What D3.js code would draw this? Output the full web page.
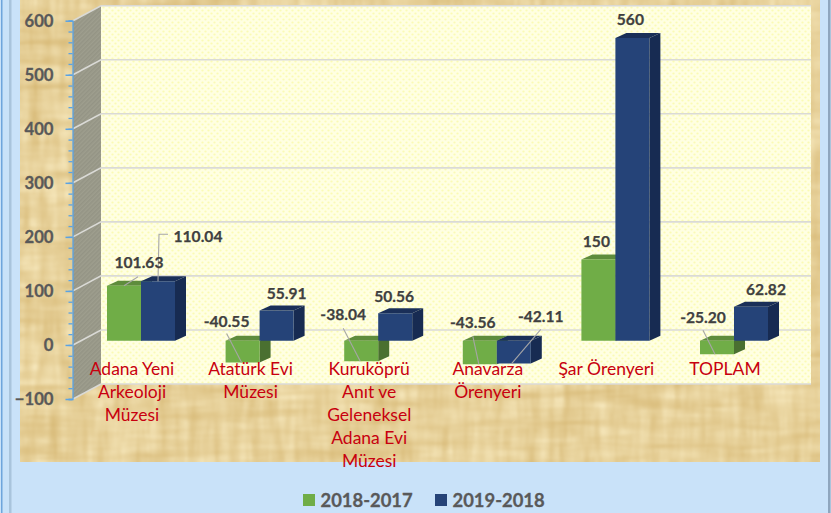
<!DOCTYPE html>
<html>
<head>
<meta charset="utf-8">
<script src="https://cdn.jsdelivr.net/npm/d3@7"></script>
<style>
    html, body { margin: 0; padding: 0; background: #C9E2F9; overflow: hidden; }
    svg { display: block; }
    text { font-family: Lato, "Open Sans", sans-serif; }
</style>
</head>
<body>
<div id="chart"></div>
<script>
'use strict'

// data
const categories = ["Adana Yeni|Arkeoloji|Müzesi", "Atatürk Evi|Müzesi", "Kuruköprü|Anıt ve|Geleneksel|Adana Evi|Müzesi", "Anavarza|Örenyeri", "Şar Örenyeri", "TOPLAM"]
const seriesNames = ["2018-2017", "2019-2018"]
const values2018 = [101.63, -40.55, -38.04, -43.56, 150, -25.20]
const values2019 = [110.04, 55.91, 50.56, -42.11, 560, 62.82]
const labels2018 = ["101.63", "-40.55", "-38.04", "-43.56", "150", "-25.20"]
const labels2019 = ["110.04", "55.91", "50.56", "-42.11", "560", "62.82"]
const yTicks = [-100, 0, 100, 200, 300, 400, 500, 600]

// label placement, relative to the end of each bar
const labelShift2018 = [[15, -23], [-16, -19], [-18, -26], [-7, -18], [-2, -18], [-14, -23]]
const labelShift2019 = [[40, -45], [10, -17], [-1, -17], [27, -24], [-2, -18], [15, -17]]
// leader lines: series, category, points relative to the bar end
const leaders = [
    [0, 0, [[14, -9], [0, 0]]],
    [1, 0, [[10, -47], [1, -47], [0, 0]]],
    [0, 1, [[-16, -29], [-1, 0]]],
    [0, 2, [[-18, -33], [-1, 0]]],
    [0, 3, [[-7, -28], [-1, 0]]],
    [1, 3, [[27, -34], [-2, 0]]],
    [0, 5, [[-14, -24], [-2, 0]]]
]

const svgWidth = 831
const svgHeight = 513

const colors = [
    { front: "#70AD47", top: "#5E8C3C", side: "#4A7030" },
    { front: "#254378", top: "#1A2F58", side: "#172B52" }
]

const svg = d3.select("#chart").append("svg")
    .attr("width", svgWidth)
    .attr("height", svgHeight)

////////////////////////////////////
//////////// textures //////////////
////////////////////////////////////

const defs = svg.append("defs")

const papyrus = defs.append("filter")
    .attr("id", "papyrus")
    .attr("x", 0).attr("y", 0).attr("width", 1).attr("height", 1)
    .attr("color-interpolation-filters", "sRGB")
papyrus.append("feTurbulence")
    .attr("type", "fractalNoise").attr("baseFrequency", "0.012 0.1")
    .attr("numOctaves", 3).attr("seed", 4).attr("result", "across")
papyrus.append("feTurbulence")
    .attr("type", "fractalNoise").attr("baseFrequency", "0.1 0.014")
    .attr("numOctaves", 3).attr("seed", 9).attr("result", "down")
papyrus.append("feBlend").attr("in", "across").attr("in2", "down").attr("mode", "multiply").attr("result", "mix")
papyrus.append("feGaussianBlur").attr("in", "mix").attr("stdDeviation", 0.8).attr("result", "soft")
papyrus.append("feColorMatrix").attr("in", "soft").attr("type", "matrix")
    .attr("values", "0.2 0 0 0 0.82  0.3 0 0 0 0.69  0.45 0 0 0 0.41  0 0 0 0 1")

const dots = defs.append("pattern")
    .attr("id", "dots")
    .attr("width", 6).attr("height", 6)
    .attr("patternUnits", "userSpaceOnUse")
dots.append("rect").attr("width", 6).attr("height", 6).attr("fill", "#FFFFE2")
dots.append("circle").attr("cx", 1.5).attr("cy", 1.5).attr("r", 1.1).attr("fill", "#FBFBB4")
dots.append("circle").attr("cx", 4.5).attr("cy", 4.5).attr("r", 1.1).attr("fill", "#FBFBB4")

const hatch = defs.append("pattern")
    .attr("id", "hatch")
    .attr("width", 3).attr("height", 3)
    .attr("patternUnits", "userSpaceOnUse")
    .attr("patternTransform", "rotate(45)")
hatch.append("rect").attr("width", 3).attr("height", 3).attr("fill", "#9E9E8E")
hatch.append("rect").attr("width", 1.5).attr("height", 3).attr("fill", "#949485")

////////////////////////////////////
//////////// scales ////////////////
////////////////////////////////////

const y = d3.scaleLinear().domain([-100, 600]).range([399, 20.7])

// front plane of the bars sits between the axis and the back wall
const wallDepth = { x: 28, y: -15 }
const barPlane = { x: 8.7, y: -4.3 }
const barDepth = { x: 11, y: -5 }

const x = d3.scaleBand()
    .domain(categories)
    .range([73 + barPlane.x, 73 + barPlane.x + 118.6 * categories.length])

const xSeries = d3.scaleBand()
    .domain(d3.range(seriesNames.length))
    .range([x.bandwidth() / 2 - 34, x.bandwidth() / 2 + 34])

////////////////////////////////////
//////////// background ////////////
////////////////////////////////////

svg.append("rect").attr("width", svgWidth).attr("height", svgHeight).attr("fill", "#C9E2F9")
svg.append("rect").attr("x", 1).attr("width", 1.5).attr("height", svgHeight).attr("fill", "#6FA5DC")
svg.append("rect").attr("x", 9).attr("width", 2.5).attr("height", svgHeight).attr("fill", "#A9C4DC")
svg.append("rect").attr("x", 828).attr("width", 2.5).attr("height", svgHeight).attr("fill", "#8FA6BE")
svg.append("rect")
    .attr("x", 20).attr("y", 0).attr("width", 800).attr("height", 462)
    .attr("filter", "url(#papyrus)")

// side wall and back wall
const wallLeft = 73 + wallDepth.x
const wallRight = 811

svg.append("polygon")
    .attr("points", [[73, y(600)], [wallLeft, y(600) + wallDepth.y], [wallLeft, y(-100) + wallDepth.y], [73, y(-100)]].join(" "))
    .attr("fill", "url(#hatch)")

svg.append("rect")
    .attr("x", wallLeft).attr("y", y(600) + wallDepth.y)
    .attr("width", wallRight - wallLeft).attr("height", y(-100) - y(600))
    .attr("fill", "url(#dots)")

svg.append("g").selectAll("path")
    .data(yTicks)
    .join("path")
    .attr("d", d => `M73,${y(d)}L${wallLeft},${y(d) + wallDepth.y}H${wallRight}`)
    .attr("fill", "none")
    .attr("stroke", "#DADAD6")
    .attr("stroke-width", 1.6)

////////////////////////////////////
//////////// axis //////////////////
////////////////////////////////////

const minorAxis = d3.axisLeft(y)
    .tickValues(d3.range(-100, 601, 20))
    .tickSize(4)
    .tickFormat("")

const majorAxis = d3.axisLeft(y)
    .tickValues(yTicks)
    .tickSize(7)
    .tickPadding(12)
    .tickFormat(d3.format("d"))

svg.append("g").attr("transform", "translate(72.5,0)").call(minorAxis)
    .call(g => g.selectAll("path,line").attr("stroke", "#5BA3E3").attr("stroke-width", 1.3))
svg.append("g").attr("transform", "translate(72.5,0)").call(majorAxis)
    .call(g => g.select("path").remove())
    .call(g => g.selectAll("line").attr("stroke", "#5BA3E3").attr("stroke-width", 1.5))
    .call(g => g.selectAll("text")
        .attr("fill", "#595959")
        .attr("stroke", "#595959")
        .attr("stroke-width", 0.3)
        .style("font-family", "Lato")
        .style("font-size", "16.7px")
        .style("font-weight", 700))

////////////////////////////////////
//////////// bars //////////////////
////////////////////////////////////

const seriesValues = [values2018, values2019]
const seriesLabels = [labels2018, labels2019]
const labelShifts = [labelShift2018, labelShift2019]

const barY = v => y(v) + barPlane.y
const barX = (c, s) => x(c) + xSeries(s)
const barCentre = (c, s) => barX(c, s) + xSeries.bandwidth() / 2

const bars = categories.flatMap((c, i) => seriesNames.map((name, s) => ({ c, i, s, v: seriesValues[s][i] })))

const barGroups = svg.append("g").selectAll("g")
    .data(bars)
    .join("g")

function faces(d) {
    const x0 = barX(d.c, d.s)
    const x1 = x0 + xSeries.bandwidth()
    const top = barY(Math.max(d.v, 0))
    const bottom = barY(Math.min(d.v, 0))
    return {
        front: [[x0, top], [x1, top], [x1, bottom], [x0, bottom]],
        top: [[x0, top], [x0 + barDepth.x, top + barDepth.y], [x1 + barDepth.x, top + barDepth.y], [x1, top]],
        side: [[x1, top], [x1 + barDepth.x, top + barDepth.y], [x1 + barDepth.x, bottom + barDepth.y], [x1, bottom]]
    }
}

;["side", "top", "front"].forEach(face => {
    barGroups.append("polygon")
        .attr("points", d => faces(d)[face].join(" "))
        .attr("fill", d => colors[d.s][face])
})

// leader lines
const leaderLine = d3.line()

svg.append("g").selectAll("path")
    .data(leaders)
    .join("path")
    .attr("d", ([s, i, pts]) => leaderLine(pts.map(p => [
        barCentre(categories[i], s) + p[0],
        barY(seriesValues[s][i]) + p[1]
    ])))
    .attr("fill", "none")
    .attr("stroke", "#A6A6A6")
    .attr("stroke-width", 1.1)

// value labels
svg.append("g").selectAll("text")
    .data(bars)
    .join("text")
    .attr("x", d => barCentre(d.c, d.s) + labelShifts[d.s][d.i][0])
    .attr("y", d => barY(Math.max(d.v, 0)) + labelShifts[d.s][d.i][1])
    .attr("dy", "0.35em")
    .attr("text-anchor", "middle")
    .attr("fill", "#404040")
    .attr("stroke", "#404040")
    .attr("stroke-width", 0.25)
    .style("font-size", "15.6px")
    .style("font-weight", 700)
    .text(d => seriesLabels[d.s][d.i])

// category labels
const categoryLabels = svg.append("g").selectAll("text")
    .data(categories)
    .join("text")
    .attr("text-anchor", "middle")
    .attr("fill", "#C8000F")
    .style("font-size", "17.5px")

categoryLabels.selectAll("tspan")
    .data(d => d.split("|").map(line => ({ line, c: d })))
    .join("tspan")
    .attr("x", d => x(d.c) + x.bandwidth() / 2 - 9)
    .attr("y", (d, i) => 375 + i * 23)
    .text(d => d.line)

////////////////////////////////////
//////////// legend ////////////////
////////////////////////////////////

const legendX = d3.scalePoint().domain(seriesNames).range([303, 435])

const legend = svg.append("g").selectAll("g")
    .data(seriesNames)
    .join("g")
    .attr("transform", d => `translate(${legendX(d)},494)`)

legend.append("rect")
    .attr("width", 12).attr("height", 12)
    .attr("fill", (d, i) => colors[i].front)

legend.append("text")
    .attr("x", 17.5).attr("y", 12.5)
    .attr("fill", "#595959")
    .attr("stroke", "#595959")
    .attr("stroke-width", 0.3)
    .style("font-size", "18.4px")
    .style("font-weight", 700)
    .text(d => d)
</script>
</body>
</html>
